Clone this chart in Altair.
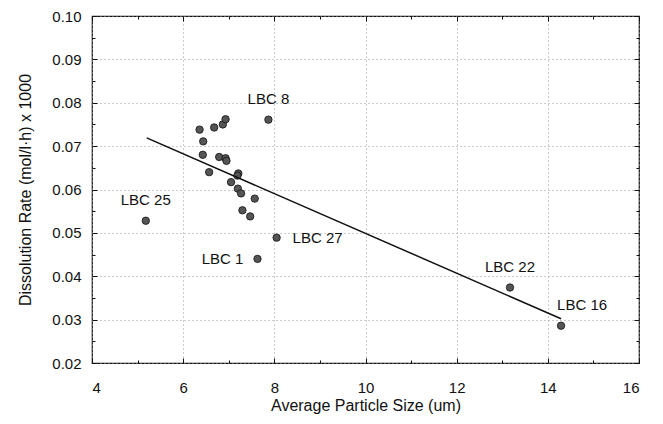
import altair as alt
import pandas as pd

# ---- data ----
sizes = [6.36, 6.68, 6.87, 6.93, 7.87, 6.44, 6.43, 6.79, 6.93, 6.95, 6.57, 7.21,
         7.19, 7.05, 7.20, 7.27, 7.57, 7.30, 7.47, 8.05, 7.63, 5.18, 13.17, 14.29]
rates = [0.0738, 0.0743, 0.0750, 0.0762, 0.0761, 0.0711, 0.0680, 0.0675, 0.0672,
         0.0666, 0.0640, 0.0637, 0.0632, 0.0617, 0.0602, 0.0591, 0.0579, 0.0552,
         0.0538, 0.0489, 0.0440, 0.0528, 0.0374, 0.0286]
names = ["", "", "", "", "LBC 8", "", "", "", "", "", "", "",
         "", "", "", "", "", "", "", "LBC 27", "LBC 1", "LBC 25", "LBC 22", "LBC 16"]

fit_x = [5.20, 14.29]
fit_y = [0.0719, 0.0302]

x_major = [4, 6, 8, 10, 12, 14, 16]
x_all = [4, 5, 6, 7, 8, 9, 10, 11, 12, 13, 14, 15, 16]
y_major = [0.02, 0.03, 0.04, 0.05, 0.06, 0.07, 0.08, 0.09, 0.10]
y_all = [0.02, 0.025, 0.03, 0.035, 0.04, 0.045, 0.05, 0.055, 0.06, 0.065,
         0.07, 0.075, 0.08, 0.085, 0.09, 0.095, 0.10]

x_title = "Average Particle Size (um)"
y_title = "Dissolution Rate (mol/l\u00b7h) x 1000"

# ---- layout ----
W, H = 547, 347
FONT = "Liberation Sans"
INK = "#111111"

df = pd.DataFrame({"size": sizes, "rate": rates, "name": names})
fit = pd.DataFrame({"size": fit_x, "rate": fit_y})

xs = alt.Scale(domain=[4, 16], nice=False, zero=False)
ys = alt.Scale(domain=[0.02, 0.10], nice=False, zero=False)

major_x = "datum.value % 2 == 0"
major_y = "abs(datum.value * 100 - round(datum.value * 100)) < 0.001"


def tick_axis(orient, offset, values, test):
    return alt.Axis(orient=orient, offset=offset, values=values, labels=False,
                    domain=False, grid=False, ticks=True, tickColor=INK,
                    tickWidth=1,
                    tickSize={"condition": {"test": test, "value": 5}, "value": 3},
                    title="")


main_x_axis = alt.Axis(orient="bottom", values=x_major, format="d", grid=True,
                       gridDash=[1, 3], gridColor="#999999", gridWidth=1,
                       ticks=False, domain=False, labelPadding=17,
                       labelFontSize=15, labelColor=INK, title=x_title,
                       titleFontSize=16, titleFontWeight="normal",
                       titleColor=INK, titlePadding=2)
main_y_axis = alt.Axis(orient="left", values=y_major, format=".2f", grid=True,
                       gridDash=[1, 3], gridColor="#999999", gridWidth=1,
                       ticks=False, domain=False, labelPadding=11,
                       labelFontSize=15, labelColor=INK, title=y_title,
                       titleFontSize=16, titleFontWeight="normal",
                       titleColor=INK, titlePadding=18)

points = alt.Chart(df).mark_point(
    filled=True, fill="#555555", stroke=INK, strokeWidth=0.8, size=55, opacity=1
).encode(
    x=alt.X("size:Q", scale=xs, axis=main_x_axis),
    y=alt.Y("rate:Q", scale=ys, axis=main_y_axis),
)

line = alt.Chart(fit).mark_line(color=INK, strokeWidth=1.5).encode(
    x=alt.X("size:Q", scale=xs, axis=tick_axis("top", -H, x_all, major_x)),
    y=alt.Y("rate:Q", scale=ys, axis=tick_axis("right", -W, y_all, major_y)),
)


def labels(which, align, dx, dy, axes=False):
    if axes:
        xe = alt.X("size:Q", scale=xs, axis=tick_axis("bottom", -H, x_all, major_x))
        ye = alt.Y("rate:Q", scale=ys, axis=tick_axis("left", -W, y_all, major_y))
    else:
        xe = alt.X("size:Q", scale=xs, axis=None)
        ye = alt.Y("rate:Q", scale=ys, axis=None)
    return alt.Chart(df).transform_filter(
        alt.FieldOneOfPredicate(field="name", oneOf=which)
    ).mark_text(
        font=FONT, fontSize=15, color=INK, align=align, baseline="middle",
        dx=dx, dy=dy
    ).encode(x=xe, y=ye, text="name:N")


lab_above = labels(["LBC 8", "LBC 25", "LBC 22"], "center", 0, -21, axes=True)
lab_16 = labels(["LBC 16"], "left", -4, -21)
lab_1 = labels(["LBC 1"], "right", -14, 0)
lab_27 = labels(["LBC 27"], "left", 16, 0)

chart = alt.layer(points, line, lab_above, lab_16, lab_1, lab_27).resolve_axis(
    x="independent", y="independent"
).properties(
    width=W, height=H,
    autosize=alt.AutoSizeParams(type="none"),
    padding={"left": 84, "top": 8, "right": 16, "bottom": 53},
    background="white",
).configure_view(
    stroke=INK, strokeWidth=1.2
).configure_axis(
    labelFont=FONT, titleFont=FONT
)

chart.save("out.html", embed_options={"renderer": "svg", "actions": False})
